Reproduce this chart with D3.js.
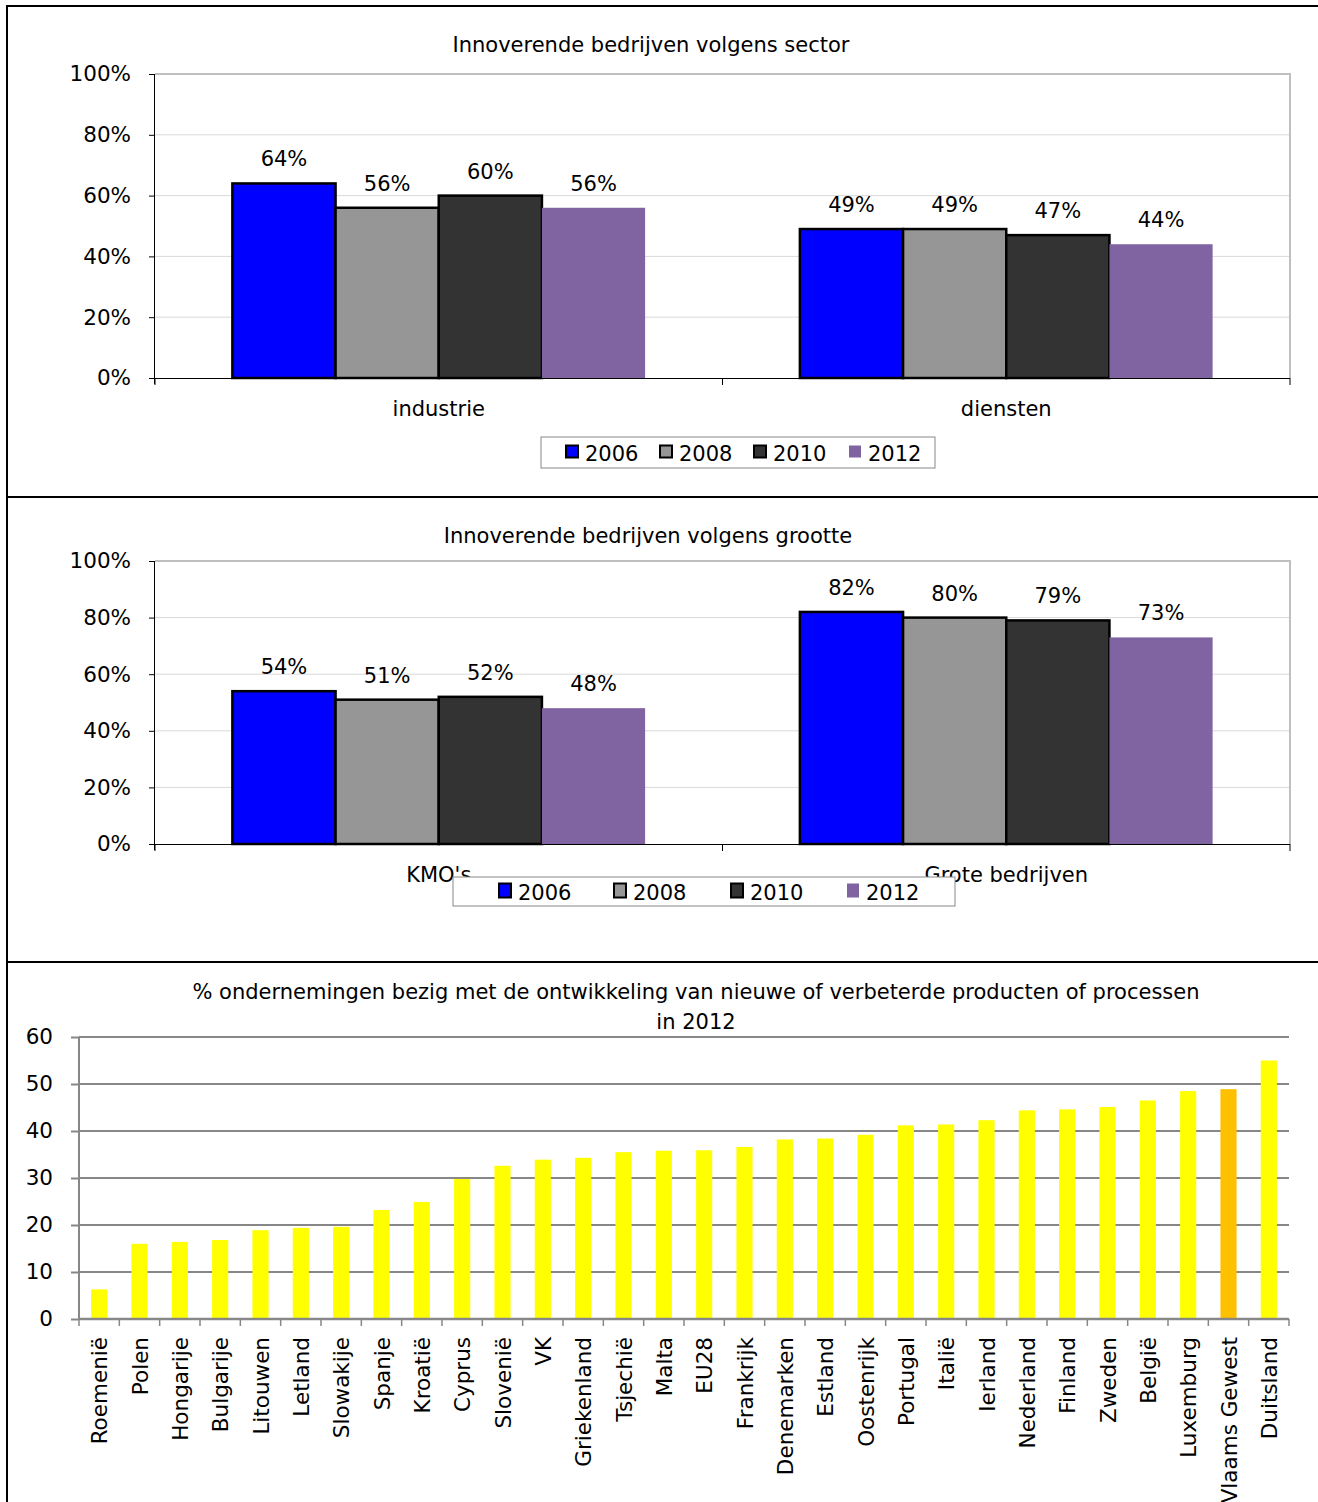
<!DOCTYPE html>
<html><head><meta charset="utf-8">
<script src="https://cdn.jsdelivr.net/npm/d3@7"></script>
<style>
html,body{margin:0;padding:0;background:#fff;}
svg{display:block;}
text{font-family:"DejaVu Sans",sans-serif;fill:#000;}
</style></head>
<body>
<svg id="c" width="1318" height="1502"></svg>
<script>
// ---- data ----
const years = ["2006", "2008", "2010", "2012"];
const yearColors = ["#0000ff", "#969696", "#333333", "#8064a2"];
const sectorGroups = ["industrie", "diensten"];
const sector2006 = [64, 49];
const sector2008 = [56, 49];
const sector2010 = [60, 47];
const sector2012 = [56, 44];
const sizeGroups = ["KMO's", "Grote bedrijven"];
const size2006 = [54, 82];
const size2008 = [51, 80];
const size2010 = [52, 79];
const size2012 = [48, 73];
const pctTicks = [0, 20, 40, 60, 80, 100];
const countries = ["Roemenië","Polen","Hongarije","Bulgarije","Litouwen","Letland","Slowakije","Spanje","Kroatië","Cyprus","Slovenië","VK","Griekenland","Tsjechië","Malta","EU28","Frankrijk","Denemarken","Estland","Oostenrijk","Portugal","Italië","Ierland","Nederland","Finland","Zweden","België","Luxemburg","Vlaams Gewest","Duitsland"];
const shares = [6.3,16.0,16.4,16.8,18.9,19.4,19.6,23.2,24.9,29.8,32.6,33.9,34.3,35.5,35.8,35.9,36.6,38.2,38.4,39.2,41.2,41.4,42.3,44.4,44.6,45.1,46.5,48.5,48.9,55.0];
const highlight = "Vlaams Gewest";
const countTicks = [0, 10, 20, 30, 40, 50, 60];

const FONT = '"DejaVu Sans",sans-serif';
const svg = d3.select("#c");

// panel frames
const frame = svg.append("g");
frame.append("line").attr("x1",7).attr("x2",7).attr("y1",5).attr("y2",1502);
frame.append("line").attr("x1",6).attr("x2",1318).attr("y1",6).attr("y2",6);
frame.append("line").attr("x1",6).attr("x2",1318).attr("y1",497).attr("y2",497);
frame.append("line").attr("x1",6).attr("x2",1318).attr("y1",962).attr("y2",962);
frame.selectAll("line").attr("stroke","#000").attr("stroke-width",2);

function groupedChart(opt){
  const g = svg.append("g");
  const x0 = d3.scaleBand().domain(opt.groups).range([155,1290]);
  const x1 = d3.scaleBand().domain(years).range([0,x0.bandwidth()]).paddingOuter(0.75);
  const y = d3.scaleLinear().domain([0,100]).range([opt.y0, opt.y1]);
  // gridlines
  g.append("g").selectAll("line").data(pctTicks.slice(1,-1)).join("line")
    .attr("x1",155).attr("x2",1290).attr("y1",d=>y(d)).attr("y2",d=>y(d))
    .attr("stroke","#d9d9d9").attr("stroke-width",1);
  // plot border top/right
  g.append("path").attr("d",`M155,${y(100)}H1290V${y(0)}`).attr("fill","none")
    .attr("stroke","#bfbfbf").attr("stroke-width",2);
  // title
  g.append("text").attr("x",opt.titleX).attr("y",opt.titleY).attr("text-anchor","middle")
    .attr("font-size",21).text(opt.title);
  // bars
  const series = opt.series;
  const gg = g.append("g").selectAll("g").data(opt.groups).join("g")
    .attr("transform",d=>`translate(${x0(d)},0)`);
  gg.selectAll("rect").data((d,gi)=>years.map((yr,si)=>({yr,si,v:series[si][gi]}))).join("rect")
    .attr("x",d=>x1(d.yr)).attr("width",x1.bandwidth())
    .attr("y",d=>y(d.v)).attr("height",d=>y(0)-y(d.v))
    .attr("fill",d=>yearColors[d.si])
    .attr("stroke",d=>d.si<3?"#000":"none").attr("stroke-width",2.5);
  gg.selectAll("text").data((d,gi)=>years.map((yr,si)=>({yr,si,v:series[si][gi]}))).join("text")
    .attr("x",d=>x1(d.yr)+x1.bandwidth()/2).attr("y",d=>y(d.v)-17)
    .attr("text-anchor","middle").attr("font-size",21).text(d=>d.v+"%");
  // y axis
  const ya = g.append("g").attr("transform","translate(155,0)")
    .call(d3.axisLeft(y).tickValues(pctTicks).tickFormat(d=>d+"%").tickSize(6).tickPadding(18));
  ya.select(".domain").attr("stroke","#000").attr("d",`M-0.5,${y(100)}V${y(0)+6}`);
  ya.selectAll(".tick line").attr("stroke","#000");
  ya.selectAll(".tick text").attr("font-size",21.5).attr("font-family",FONT).attr("fill","#000");
  // x axis
  const xa = g.append("g").attr("transform",`translate(0,${y(0)})`)
    .call(d3.axisBottom(x0).tickSize(0).tickPadding(opt.catPad));
  xa.select(".domain").attr("stroke","#000").attr("d","M155,0.5H1290");
  xa.selectAll(".tick text").attr("font-size",21).attr("font-family",FONT).attr("fill","#000");
  g.append("g").selectAll("line").data([155, x0(opt.groups[1]), 1290]).join("line")
    .attr("x1",d=>d).attr("x2",d=>d).attr("y1",y(0)).attr("y2",y(0)+7).attr("stroke","#000");
  // legend
  const L = opt.legend;
  const lg = g.append("g");
  lg.append("rect").attr("x",L.x).attr("y",L.y).attr("width",L.w).attr("height",L.h)
    .attr("fill","#fff").attr("stroke","#888").attr("stroke-width",1);
  const li = lg.selectAll("g").data(years).join("g")
    .attr("transform",(d,i)=>`translate(${L.sx[i]},${L.y+L.h/2})`);
  li.append("rect").attr("x",0).attr("y",-L.sq/2-1).attr("width",L.sqw).attr("height",L.sq)
    .attr("fill",(d,i)=>yearColors[i]).attr("stroke",(d,i)=>i<3?"#000":"none").attr("stroke-width",2);
  li.append("text").attr("x",L.tx).attr("y",8).attr("font-size",21).text(d=>d);
}

groupedChart({groups:sectorGroups, series:[sector2006,sector2008,sector2010,sector2012],
  y0:378, y1:74, title:"Innoverende bedrijven volgens sector", titleX:651, titleY:52, catPad:23,
  legend:{x:541,y:437,w:394,h:31,sx:[566,660,754,849],tx:19,sq:12,sqw:12}});
groupedChart({groups:sizeGroups, series:[size2006,size2008,size2010,size2012],
  y0:844, y1:561, title:"Innoverende bedrijven volgens grootte", titleX:648, titleY:543, catPad:23,
  legend:{x:453,y:877,w:502,h:29,sx:[499,614,731,847],tx:19,sq:14,sqw:12}});

// ---- chart 3 ----
(function(){
  const g = svg.append("g");
  const left = 79, right = 1289;
  const x = d3.scaleBand().domain(countries).range([left,right]).paddingInner(0.6).paddingOuter(0.3);
  const y = d3.scaleLinear().domain([0,60]).range([1319,1037]);
  g.append("text").attr("x",696).attr("y",999).attr("text-anchor","middle").attr("font-size",21)
    .text("% ondernemingen bezig met de ontwikkeling van nieuwe of verbeterde producten of processen");
  g.append("text").attr("x",696).attr("y",1029).attr("text-anchor","middle").attr("font-size",21)
    .text("in 2012");
  g.append("g").selectAll("line").data(countTicks.slice(1)).join("line")
    .attr("x1",left).attr("x2",right).attr("y1",d=>y(d)).attr("y2",d=>y(d))
    .attr("stroke","#878787").attr("stroke-width",2);
  g.append("g").selectAll("rect").data(countries).join("rect")
    .attr("x",d=>x(d)).attr("width",x.bandwidth())
    .attr("y",(d,i)=>y(shares[i])).attr("height",(d,i)=>y(0)-y(shares[i]))
    .attr("fill",d=>d===highlight?"#ffc000":"#ffff00");
  const ya = g.append("g").attr("transform",`translate(${left},0)`)
    .call(d3.axisLeft(y).tickValues(countTicks).tickSize(8).tickPadding(18));
  ya.select(".domain").attr("stroke","#878787").attr("stroke-width",2).attr("d",`M0,${y(60)}V${y(0)}`);
  ya.selectAll(".tick line").attr("stroke","#878787").attr("stroke-width",2);
  ya.selectAll(".tick text").attr("font-size",21.5).attr("font-family",FONT).attr("fill","#000");
  // x axis
  g.append("line").attr("x1",left).attr("x2",right).attr("y1",y(0)).attr("y2",y(0))
    .attr("stroke","#878787").attr("stroke-width",2.5);
  const w = (right-left)/countries.length;
  g.append("g").selectAll("line").data(d3.range(countries.length+1)).join("line")
    .attr("x1",i=>left+i*w).attr("x2",i=>left+i*w)
    .attr("y1",y(0)).attr("y2",y(0)+7).attr("stroke","#878787").attr("stroke-width",1.5);
  g.append("g").selectAll("text").data(countries).join("text")
    .attr("transform",d=>`translate(${x(d)+x.bandwidth()/2+8},1337) rotate(-90)`)
    .attr("text-anchor","end").attr("font-size",21.5).text(d=>d);
})();
</script>
</body></html>
